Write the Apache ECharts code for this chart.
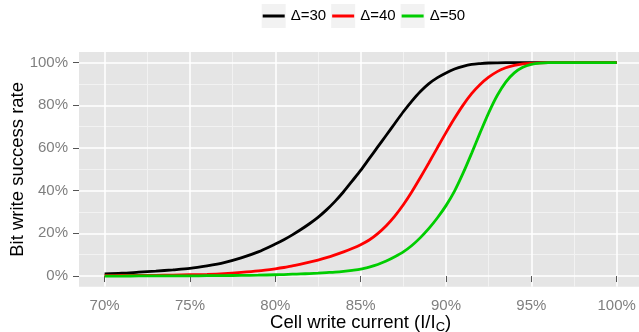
<!DOCTYPE html>
<html>
<head>
<meta charset="utf-8">
<script src="https://cdn.jsdelivr.net/npm/echarts@6/dist/echarts.min.js"></script>
<style>html,body{margin:0;padding:0;background:#fff;}#c{width:639px;height:332px;}</style>
</head>
<body>
<div id="c"></div>
<script>
// Cell write current (% of I_C)
const current = [70,71,72,73,74,75,76,77,78,79,80,80.5,81,81.5,82,82.5,83,83.5,84,84.5,85,85.5,86,86.5,87,87.5,88,88.5,89,89.5,90,90.5,91,91.5,92,92.5,93,93.5,94,94.5,95,95.5,96,97,98,99,100];
// Bit write success rate (%)
const delta30 = [1.0,1.3,1.8,2.3,2.9,3.6,4.8,6.3,8.5,11.3,15.0,17.0,19.3,21.8,24.5,27.5,31.0,35.0,39.5,44.5,49.5,55.0,60.5,66.0,71.5,77.0,82.0,86.5,90.2,93.0,95.2,97.0,98.3,99.2,99.6,99.85,99.95,100,100,100,100,100,100,100,100,100,100];
const delta40 = [0.2,0.25,0.3,0.35,0.45,0.6,0.8,1.15,1.7,2.4,3.4,4.0,4.8,5.6,6.5,7.5,8.6,9.9,11.3,12.9,14.7,16.9,19.9,23.6,28.1,33.4,39.5,46.2,53.1,60.2,67.2,73.9,80.1,85.5,89.8,93.2,95.8,97.6,98.7,99.4,99.7,99.9,100,100,100,100,100];
const delta50 = [0.0,0.0,0.05,0.05,0.1,0.1,0.15,0.2,0.3,0.4,0.6,0.7,0.85,1.0,1.15,1.35,1.6,1.85,2.2,2.65,3.2,4.2,5.4,7.0,9.0,11.3,14.3,18.0,22.3,27.3,33.0,39.8,48.2,57.5,67.2,76.5,84.6,90.9,95.2,97.8,99.2,99.8,100,100,100,100,100];
const seriesNames = ['Δ=30','Δ=40','Δ=50'];
const seriesColors = ['#000000','#FF0000','#00CD00'];
const xTicks = [70,75,80,85,90,95,100];
const xMinor = [72.5,77.5,82.5,87.5,92.5,97.5];
const yTicks = [0,20,40,60,80,100];
const yMinor = [10,30,50,70,90];

const FONT = 'Liberation Sans, Arial, sans-serif';
const allY = [delta30, delta40, delta50];

const chart = echarts.init(document.getElementById('c'), null, {renderer:'canvas'});
const xMin = 68.5, xMax = 101.5, yMin = -5, yMax = 105;

const option = {
  animation: false,
  backgroundColor: '#ffffff',
  textStyle: {fontFamily: FONT},
  grid: {left: 79, top: 52, width: 563.3, height: 234.7, show: true, backgroundColor: '#E5E5E5', borderWidth: 0, containLabel: false, outerBoundsMode: 'none'},
  legend: [
    {
      data: seriesNames, left: 261.7, top: 4, orient: 'horizontal', padding: 0,
      icon: 'rect', itemWidth: 24, itemHeight: 24, itemGap: 5, selectedMode: false, z: 4,
      itemStyle: {color: '#F2F2F2', borderWidth: 0},
      textStyle: {fontSize: 15, color: '#000', fontFamily: FONT, lineHeight: 24}
    },
    {
      data: seriesNames, left: 262.7, top: 4, orient: 'horizontal', padding: 0,
      icon: 'rect', itemWidth: 22, itemHeight: 3, itemGap: 7, selectedMode: false, z: 5,
      itemStyle: {borderWidth: 0},
      textStyle: {fontSize: 15, color: 'rgba(0,0,0,0)', fontFamily: FONT, lineHeight: 24}
    }
  ],
  xAxis: [
    {
      type: 'value', min: xMin, max: xMax, z: 2,
      axisLine: {show: false},
      axisTick: {show: true, length: 6, customValues: xTicks, lineStyle: {color: '#555555', width: 1}},
      axisLabel: {customValues: xTicks, formatter: v => v + '%', color: '#7F7F7F', fontSize: 15, margin: 12, fontFamily: FONT},
      splitLine: {show: true, lineStyle: {color: '#FFFFFF', width: 1.5}},
      name: 'Cell write current (I/I{s|C})', nameLocation: 'middle', nameGap: 26, nameMoveOverlap: false,
      nameTextStyle: {fontSize: 18.5, color: '#000', fontFamily: FONT,
        rich: {s: {fontSize: 13, fontFamily: FONT, color: '#000', padding: [8,0,0,0]}}}
    },
    {
      type: 'value', min: xMin, max: xMax, z: 1, gridIndex: 0,
      axisLine: {show: false}, axisLabel: {show: false},
      axisTick: {show: false, customValues: xMinor},
      splitLine: {show: true, lineStyle: {color: '#F2F2F2', width: 1}}
    }
  ],
  yAxis: [
    {
      type: 'value', min: yMin, max: yMax, z: 2,
      axisLine: {show: false},
      axisTick: {show: true, length: 6, customValues: yTicks, lineStyle: {color: '#555555', width: 1}},
      axisLabel: {customValues: yTicks, formatter: v => v + '%', color: '#7F7F7F', fontSize: 15, margin: 11, fontFamily: FONT},
      splitLine: {show: true, lineStyle: {color: '#FFFFFF', width: 1.5}},
      name: 'Bit write success rate', nameLocation: 'middle', nameGap: 52, nameRotate: 90, nameMoveOverlap: false,
      nameTextStyle: {fontSize: 18.5, color: '#000', fontFamily: FONT}
    },
    {
      type: 'value', min: yMin, max: yMax, z: 1,
      axisLine: {show: false}, axisLabel: {show: false},
      axisTick: {show: false, customValues: yMinor},
      splitLine: {show: true, lineStyle: {color: '#F2F2F2', width: 1}}
    }
  ],
  series: seriesNames.map((n, i) => ({
    name: n, type: 'line', xAxisIndex: 0, yAxisIndex: 0, z: 3,
    data: current.map((x, j) => [x, allY[i][j]]),
    showSymbol: false, symbol: 'none', smooth: 0.3,
    color: seriesColors[i],
    lineStyle: {color: seriesColors[i], width: 2.8},
    itemStyle: {color: seriesColors[i]},
    emphasis: {disabled: true}
  }))
};
chart.setOption(option);
</script>
</body>
</html>
